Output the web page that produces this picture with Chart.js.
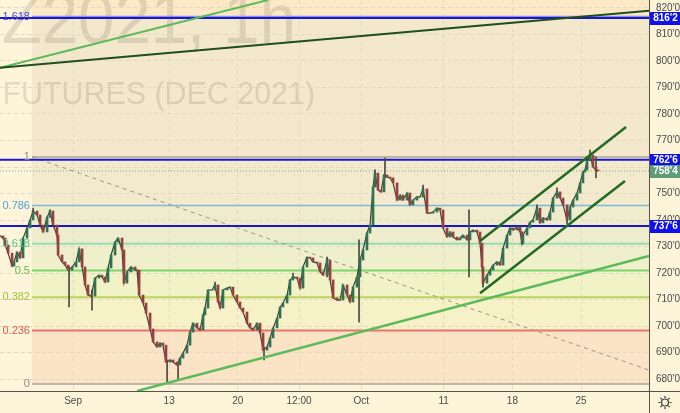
<!DOCTYPE html>
<html>
<head>
<meta charset="utf-8">
<script src="https://cdn.jsdelivr.net/npm/chart.js@4.4.0/dist/chart.umd.min.js"></script>
<style>
  html, body { margin: 0; padding: 0; background: #fef4da; }
  #wrap { width: 680px; height: 413px; position: relative; }
</style>
</head>
<body>
<div id="wrap"><canvas id="chart"></canvas></div>
<script>
// ── DATA ────────────────────────────────────────────────────────────
// x = trading day index (0 = Sep 1), y = price in cents
const barDay = [
  -5.32,-5.10,-4.95,-4.73,-4.44,-4.30,-4.08,-3.86,-3.64,-3.35,
  -3.13,-2.91,-2.62,-2.40,-2.18,-1.89,-1.68,-1.46,-1.17,-1.09,
  -0.80,-0.58,-0.36,-0.07,0.22,0.44,0.66,0.87,1.09,1.31,
  1.60,1.89,2.11,2.33,2.55,2.77,3.06,3.28,3.57,3.71,
  3.93,4.22,4.52,4.66,4.81,5.10,5.32,5.61,5.83,6.12,
  6.34,6.55,6.77,7.06,7.28,7.57,7.79,8.01,8.30,8.52,
  8.74,9.03,9.25,9.47,9.61,9.83,10.12,10.34,10.56,10.71,
  10.92,11.22,11.43,11.65,11.94,12.16,12.38,12.67,12.89,13.11,
  13.40,13.62,13.84,14.13,14.35,14.57,14.86,15.08,15.29,15.59,
  15.80,16.02,16.31,16.53,16.75,17.04,17.26,17.48,17.77,17.99,
  18.21,18.50,18.72,18.94,19.23,19.45,19.66,19.96,20.17,20.39,
  20.68,20.90,21.12,21.41,21.63,21.85,21.99,22.21,22.43,22.65,
  22.87,23.09,23.31,23.60,23.82,24.03,24.33,24.54,24.76,25.05,
  25.27,25.49,25.78,26.00,26.22,26.51,26.73,26.95,27.24,27.46,
  27.68,27.97,28.19,28.40,28.70,28.91,29.13,29.42,29.64,29.79,
  29.86,30.15,30.37,30.59,30.88,31.10,31.32,31.61,31.83,32.05,
  32.34,32.56,32.70,32.77,33.07,33.28,33.50,33.79,34.01,34.23,
  34.52,34.74,34.96,35.25,35.47,35.69,35.98,36.20,36.42,36.71,
  36.93,37.14,37.29,37.44,37.65,37.87,38.09,38.24
];
const closePrice = [
  734.0,733.2,730.6,727.5,722.6,724.2,727.9,725.7,733.2,737.0,
  740.0,743.4,741.9,738.1,735.5,741.1,743.4,738.1,734.3,726.8,
  724.2,723.0,721.1,722.3,724.2,729.1,722.3,715.5,711.7,711.3,
  718.1,719.2,718.5,716.6,721.9,726.8,731.7,733.2,728.7,716.2,
  720.4,722.3,721.1,721.1,711.7,708.7,704.9,698.9,694.0,692.1,
  693.6,692.8,686.4,687.2,686.4,685.3,687.9,689.8,692.8,697.7,
  701.1,699.3,698.5,704.2,706.8,713.6,713.6,715.5,709.1,706.8,
  713.6,714.3,714.7,711.7,709.1,706.8,705.3,701.1,699.3,698.5,
  701.1,697.4,690.9,692.1,695.5,699.3,703.0,707.2,708.7,711.7,
  717.4,718.5,718.1,714.3,722.3,726.0,725.7,724.2,723.8,720.4,
  719.2,724.9,717.4,710.6,709.8,709.8,715.5,711.7,709.1,714.7,
  718.5,724.9,728.7,735.1,738.1,752.5,757.7,751.3,750.6,757.0,
  756.2,755.9,754.0,747.5,749.4,747.5,750.2,745.7,747.5,748.7,
  748.7,751.7,742.6,742.6,743.0,744.5,743.8,737.0,733.6,735.5,
  733.6,732.5,733.2,734.3,732.5,735.5,736.2,735.5,731.3,722.3,
  716.2,719.2,721.1,723.0,724.2,723.0,729.4,734.3,737.0,736.2,
  737.4,735.5,731.3,734.3,737.0,739.2,740.0,744.5,738.9,740.8,
  740.0,743.0,748.3,750.6,748.3,745.7,740.0,744.9,747.5,750.2,
  754.0,758.1,758.9,762.6,764.5,760.0,758.9,758.5
];
// long wicks that stick out of the price path
const wickDay  = [-2.91,-1.68,-0.29,1.38,6.85,7.65,10.34,13.91,16.02,18.50,20.83,21.99,22.72,25.49,28.84,29.86,32.70,33.79,35.25,35.98,37.65,38.09];
const wickLow  = [741.9,741.1,707.2,706.0,678.5,680.0,713.6,687.2,717.4,718.5,701.5,752.5,755.9,748.7,718.5,714.7,730.6,741.9,748.3,738.5,762.6,755.9];
const wickHigh = [744.5,743.8,722.3,713.6,687.2,686.4,716.6,692.1,720.0,726.0,732.5,758.9,763.4,753.2,743.8,719.2,735.5,745.7,752.1,744.9,766.4,763.8];

// axes
const dateTicks  = [0, 7, 12, 16.46, 21, 27, 32, 37];
const dateLabels = ['Sep', '13', '20', '12:00', 'Oct', '11', '18', '25'];
const priceTicks = [680, 690, 700, 710, 720, 730, 740, 750, 760, 770, 780, 790, 800, 810, 820];
const X_MIN = -5.32, X_MAX = 41.95, Y_MIN = 675.5, Y_MAX = 823.0;

// drawings
const fibLevels = [0, 0.236, 0.382, 0.5, 0.618, 0.786, 1, 1.618];
const fibLow = 678.1, fibHigh = 763.8, fibStartDay = -2.99;
const hLevels = [816.25, 762.75, 737.75];
const lastPrice = 758.5;
const longTrend   = [[-5.32, 797.4], [41.95, 818.9]];
const steepTrend  = [[-5.32, 797.4], [14.20, 823.0]];
const supportLine = [[4.66, 675.5], [41.95, 726.4]];
const channelTop  = [[29.64, 732.1], [40.28, 775.1]];
const channelBot  = [[29.64, 712.4], [40.20, 754.7]];
const dashedLine  = [[-2.99, 763.8], [41.95, 683.4]];

// ── STYLE ───────────────────────────────────────────────────────────
const PAGE_BG = '#fef4da';
const NARROW = "'Liberation Sans Narrow', 'Liberation Sans', Arial, sans-serif";
const fibZone = ['#fbe3c6', '#f6f1c7', '#f1f2c5', '#eff0cb', '#efecce', '#f3e9cc', '#f3e7cc'];
const fibLine = ['#aaa59c', '#e7776b', '#b9d45e', '#7fd46c', '#94dcb4', '#7db9d9', '#aba496', '#8f8ff0'];
const fibText = ['#8c8c8c', '#e05a4e', '#9cc23b', '#5dc24c', '#45c98f', '#4fa3d6', '#8c8c8c', '#4a4acf'];
const BLUE = '#1717d0';

const fibPrice = l => fibLow + l * (fibHigh - fibLow);
const fmt = v => {
  const w = Math.floor(v + 1e-6);
  return w + "'" + Math.round((v - w) * 8);
};

function segment(points, color, width, order, dash) {
  return {
    type: 'line',
    data: points.map(([x, y]) => ({ x, y })),
    borderColor: color,
    borderWidth: width,
    borderDash: dash || [],
    pointRadius: 0,
    fill: false,
    tension: 0,
    order
  };
}

// ── DATASETS ────────────────────────────────────────────────────────
const opens = closePrice.map((c, i) => i ? closePrice[i - 1] : c);
const datasets = [];

fibLevels.forEach((l, i) => {
  const w = (l > 0.2 && l < 0.7) ? 2 : 1.5;
  datasets.push(segment([[fibStartDay, fibPrice(l)], [X_MAX, fibPrice(l)]], fibLine[i], w, 20));
});
datasets.push(segment(dashedLine, '#9a968c', 1, 19, [4, 4]));
datasets.push(segment([[X_MIN, lastPrice], [X_MAX, lastPrice]], '#7fa58a', 1, 18, [1, 2]));
hLevels.forEach(p => datasets.push(segment([[X_MIN, p], [X_MAX, p]], BLUE, 2, 17)));

datasets.push({
  type: 'bar',
  data: wickDay.map((d, i) => ({ x: d, y: [wickLow[i], wickHigh[i]] })),
  backgroundColor: '#4b4b42',
  barThickness: 1,
  grouped: false,
  order: 8
});
datasets.push({
  type: 'line',
  data: barDay.map((d, i) => ({ x: d, y: closePrice[i] })),
  borderColor: '#3e3e35',
  borderWidth: 1.2,
  pointRadius: 0,
  tension: 0,
  fill: false,
  order: 7
});
datasets.push({
  type: 'bar',
  data: barDay.map((d, i) => ({ x: d, y: [opens[i], closePrice[i]] })),
  backgroundColor: closePrice.map((c, i) => c >= opens[i] ? '#2f7352' : '#9a3f3f'),
  barThickness: 2,
  grouped: false,
  order: 6
});

datasets.push(segment(longTrend, '#1f4f1f', 2, 2));
datasets.push(segment(steepTrend, '#5cba5c', 2, 2));
datasets.push(segment(supportLine, '#5cba5c', 2.5, 2));
datasets.push(segment(channelTop, '#236a23', 2.5, 1));
datasets.push(segment(channelBot, '#236a23', 2.5, 1));

// ── PLUGINS ─────────────────────────────────────────────────────────
const backdrop = {
  id: 'backdrop',
  beforeDraw(chart) {
    const { ctx, chartArea: a, scales: { x, y } } = chart;
    ctx.save();
    ctx.fillStyle = PAGE_BG;
    ctx.fillRect(0, 0, chart.width, chart.height);

    const left = x.getPixelForValue(fibStartDay);
    const topLevel = y.getPixelForValue(fibPrice(fibLevels[fibLevels.length - 1]));
    ctx.fillStyle = '#fce8c5';
    ctx.fillRect(left, a.top, a.right - left, topLevel - a.top);
    for (let i = 0; i < fibLevels.length - 1; i++) {
      const y1 = y.getPixelForValue(fibPrice(fibLevels[i + 1]));
      const y0 = y.getPixelForValue(fibPrice(fibLevels[i]));
      ctx.fillStyle = fibZone[i];
      ctx.fillRect(left, y1, a.right - left, y0 - y1);
    }

    // symbol watermark
    ctx.beginPath();
    ctx.rect(a.left, a.top, a.width, a.height);
    ctx.clip();
    ctx.fillStyle = 'rgba(110,100,85,0.19)';
    ctx.textAlign = 'right';
    ctx.textBaseline = 'alphabetic';
    ctx.save();
    ctx.translate(296, 43);
    ctx.scale(0.92, 1);
    ctx.font = "71px 'Liberation Sans', Arial, sans-serif";
    ctx.fillText('Z2021, 1h', 0, 0);
    ctx.restore();
    ctx.save();
    ctx.translate(315, 104);
    ctx.scale(0.95, 1);
    ctx.font = "32px 'Liberation Sans', Arial, sans-serif";
    ctx.fillText('FUTURES (DEC 2021)', 0, 0);
    ctx.restore();
    ctx.restore();
  }
};

const overlay = {
  id: 'overlay',
  afterDraw(chart) {
    const { ctx, chartArea: a, scales: { x, y } } = chart;
    ctx.save();

    // fib level captions
    const left = x.getPixelForValue(fibStartDay);
    ctx.font = '11px ' + NARROW;
    ctx.textAlign = 'right';
    ctx.textBaseline = 'middle';
    fibLevels.forEach((l, i) => {
      ctx.fillStyle = fibText[i];
      ctx.fillText(String(l), left - 2, y.getPixelForValue(fibPrice(l)));
    });

    // axis borders
    ctx.strokeStyle = '#55534d';
    ctx.lineWidth = 1;
    ctx.beginPath();
    ctx.moveTo(a.right + 0.5, 0);
    ctx.lineTo(a.right + 0.5, chart.height);
    ctx.moveTo(0, a.bottom + 0.5);
    ctx.lineTo(chart.width, a.bottom + 0.5);
    ctx.stroke();

    // price tags on the right scale
    const tag = (p, bg) => {
      const py = Math.round(y.getPixelForValue(p));
      ctx.fillStyle = bg;
      ctx.fillRect(a.right + 1, py - 6, chart.width - a.right - 1, 13);
      ctx.fillStyle = '#ffffff';
      ctx.font = 'bold 10px ' + NARROW;
      ctx.textAlign = 'center';
      ctx.textBaseline = 'middle';
      ctx.fillText(fmt(p), (a.right + chart.width) / 2 + 1, py + 0.5);
    };
    hLevels.forEach(p => tag(p, '#1010f0'));
    tag(lastPrice, '#5e9c7a');

    // settings icon
    const cx = (a.right + chart.width) / 2 + 0.5, cy = (a.bottom + chart.height) / 2 + 0.5;
    ctx.strokeStyle = '#3a3a3a';
    ctx.lineWidth = 1.2;
    ctx.beginPath();
    ctx.arc(cx, cy, 3.5, 0, Math.PI * 2);
    for (let k = 0; k < 8; k++) {
      const ang = k * Math.PI / 4;
      ctx.moveTo(cx + Math.cos(ang) * 4.5, cy + Math.sin(ang) * 4.5);
      ctx.lineTo(cx + Math.cos(ang) * 6.5, cy + Math.sin(ang) * 6.5);
    }
    ctx.stroke();
    ctx.restore();
  }
};

// ── CHART ───────────────────────────────────────────────────────────
new Chart(document.getElementById('chart'), {
  type: 'bar',
  data: { datasets },
  options: {
    responsive: true,
    maintainAspectRatio: false,
    animation: false,
    events: [],
    layout: { padding: 0 },
    plugins: { legend: { display: false }, tooltip: { enabled: false } },
    scales: {
      x: {
        type: 'linear',
        min: X_MIN,
        max: X_MAX,
        offset: false,
        grid: { color: '#e2d9c5', lineWidth: 1, drawTicks: false, offset: false },
        border: { display: false, dash: [4, 3] },
        afterBuildTicks: s => { s.ticks = dateTicks.map(v => ({ value: v })); },
        afterFit: s => { s.height = 22; s.paddingLeft = 0; s.paddingRight = 0; },
        ticks: {
          autoSkip: false,
          maxRotation: 0,
          padding: 4,
          color: '#4a4a4a',
          font: { family: NARROW, size: 10 },
          callback: v => dateLabels[dateTicks.indexOf(v)]
        }
      },
      y: {
        type: 'linear',
        position: 'right',
        min: Y_MIN,
        max: Y_MAX,
        grid: { color: '#e2d9c5', lineWidth: 1, drawTicks: false },
        border: { display: false, dash: [4, 3] },
        afterBuildTicks: s => { s.ticks = priceTicks.map(v => ({ value: v })); },
        afterFit: s => { s.width = 31; s.paddingTop = 0; s.paddingBottom = 0; },
        ticks: {
          padding: 7,
          color: '#4a4a4a',
          font: { family: NARROW, size: 10 },
          callback: v => fmt(v)
        }
      }
    }
  },
  plugins: [backdrop, overlay]
});
</script>
</body>
</html>
